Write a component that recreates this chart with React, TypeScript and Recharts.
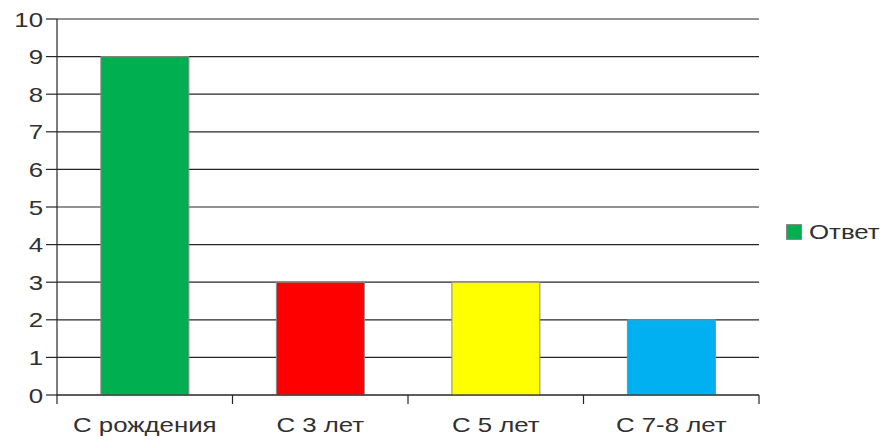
import React from "react";
import { BarChart, Bar, XAxis, YAxis, CartesianGrid, Cell, Legend } from "recharts";

const categories = ["С рождения", "С 3 лет", "С 5 лет", "С 7-8 лет"];
const values = [9, 3, 3, 2];
const barColors = ["#00B050", "#FF0000", "#FFFF00", "#00B0F0"];
const yTicks = [0, 1, 2, 3, 4, 5, 6, 7, 8, 9, 10];
const seriesName = "Ответ";

const data = categories.map((c, i) => ({ name: c, value: values[i] }));

const FONT = "'Liberation Sans', Arial, sans-serif";
const SX = 1.23;
const FS = 21;
const AXIS = "#262626";
const TEXT = "#303030";

const XTick = (props: any) => {
  const { x, y, payload, index, visibleTicksCount } = props;
  const half = payload && typeof payload.offset === "number" ? payload.offset : 0;
  const isLast = index === visibleTicksCount - 1;
  return (
    <g transform={`translate(${x},${y})`}>
      <line x1={-half} y1={0} x2={-half} y2={9} stroke={AXIS} strokeWidth={1.2} />
      {isLast && <line x1={half} y1={0} x2={half} y2={9} stroke={AXIS} strokeWidth={1.2} />}
      <text x={0} y={0} dy={37} textAnchor="middle" fontSize={FS} fontFamily={FONT} fill={TEXT} transform={`scale(${SX},1)`}>
        {payload.value}
      </text>
    </g>
  );
};

const YTick = (props: any) => {
  const { x, y, payload } = props;
  return (
    <g transform={`translate(${x},${y})`}>
      <text x={0} y={0} dy={7.5} textAnchor="end" fontSize={FS} fontFamily={FONT} fill={TEXT} transform={`scale(${SX},1)`}>
        {payload.value}
      </text>
    </g>
  );
};

const LegendContent = () => (
  <div style={{ display: "flex", alignItems: "center", fontFamily: FONT, fontSize: FS, color: TEXT, whiteSpace: "nowrap" }}>
    <div style={{ width: 16, height: 16, background: barColors[0], border: "1px solid #8a8a8a", boxSizing: "border-box", marginRight: 7 }} />
    <span style={{ display: "inline-block", transform: `scaleX(${SX})`, transformOrigin: "left center" }}>{seriesName}</span>
  </div>
);

export default function App() {
  return (
    <div style={{ position: "absolute", left: 0, top: 0, width: 888, height: 440, background: "#fff" }}>
      <BarChart width={888} height={440} data={data} margin={{ top: 19, right: 129, left: 0, bottom: 0 }} barCategoryGap="25%">
        <CartesianGrid vertical={false} stroke={AXIS} strokeWidth={1.2} />
        <XAxis dataKey="name" height={45} tickSize={0} tickMargin={0} tickLine={false} axisLine={{ stroke: AXIS, strokeWidth: 1.2 }} tick={<XTick />} interval={0} />
        <YAxis width={57} domain={[0, 10]} ticks={yTicks} interval={0} tickSize={11} tickMargin={3} axisLine={{ stroke: AXIS, strokeWidth: 1.2 }} tickLine={{ stroke: AXIS, strokeWidth: 1.2 }} tick={<YTick />} />
        <Legend verticalAlign="middle" align="center" layout="horizontal" content={<LegendContent />} wrapperStyle={{ left: 786, top: 220, width: 100, height: 20 }} />
        <Bar dataKey="value" name={seriesName} isAnimationActive={false} stroke="#8a8a8a" strokeWidth={1}>
          {data.map((d, i) => (
            <Cell key={d.name} fill={barColors[i]} />
          ))}
        </Bar>
      </BarChart>
    </div>
  );
}
